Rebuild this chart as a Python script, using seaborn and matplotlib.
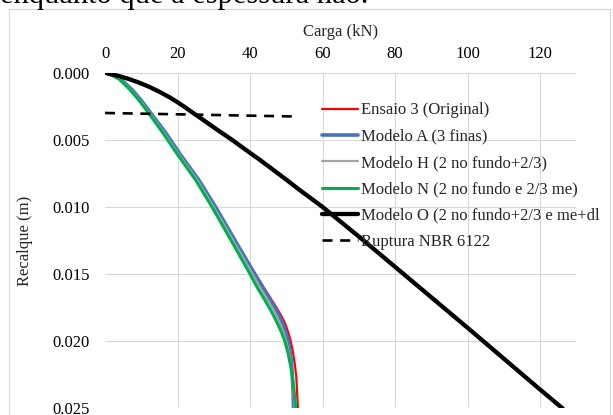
import numpy as np
import pandas as pd
import matplotlib
matplotlib.use("Agg")
import matplotlib.pyplot as plt
import seaborn as sns
from matplotlib.patches import Rectangle
from matplotlib.lines import Line2D

# ---------------- data ----------------
x_ticks = [0, 20, 40, 60, 80, 100, 120]
y_ticks = [0.000, 0.005, 0.010, 0.015, 0.020, 0.025]

# Ensaio 3 (Original)
red_P = [0, 2.2, 4.4, 7.6, 10.1, 12.6, 16.8, 20.8, 25.9, 30.5, 36.1, 41.5, 43.8, 45.9, 47.3, 48.6,
         49.7, 50.6, 51.3, 51.9, 52.4, 52.8, 53.0, 53.2]
red_v = [0, 0.0002, 0.0005, 0.0013, 0.0021, 0.0030, 0.0045, 0.0061, 0.0080, 0.0100, 0.0126, 0.0150,
         0.0160, 0.0169, 0.0175, 0.0181, 0.0187, 0.0194, 0.0201, 0.0209, 0.0218, 0.0228, 0.0239, 0.0250]
# Modelo A (3 finas)
blue_P = [0, 2.2, 4.4, 7.6, 10.1, 12.6, 16.8, 20.8, 25.9, 30.5, 36.1, 41.3, 43.5, 45.5, 46.8, 48.0,
          49.0, 49.9, 50.6, 51.1, 51.5, 51.7, 51.9, 52.0]
blue_v = [0, 0.0002, 0.0005, 0.0013, 0.0021, 0.0030, 0.0045, 0.0061, 0.0080, 0.0100, 0.0126, 0.0150,
          0.0160, 0.0169, 0.0175, 0.0181, 0.0187, 0.0194, 0.0201, 0.0209, 0.0218, 0.0228, 0.0239, 0.0250]
# Modelo H (2 no fundo+2/3)
gray_P = [0, 2.1, 4.2, 7.3, 9.8, 12.3, 16.4, 20.4, 25.5, 30.0, 35.6, 40.7, 42.8, 44.8, 46.1, 47.3,
          48.3, 49.3, 50.1, 50.8, 51.3, 51.7, 52.0, 52.3]
gray_v = [0, 0.0002, 0.0005, 0.0013, 0.0021, 0.0030, 0.0045, 0.0061, 0.0080, 0.0100, 0.0126, 0.0150,
          0.0160, 0.0169, 0.0175, 0.0181, 0.0187, 0.0194, 0.0201, 0.0209, 0.0218, 0.0228, 0.0239, 0.0250]
# Modelo N (2 no fundo e 2/3 me)
green_P = [0, 2.0, 4.0, 7.0, 9.5, 12.0, 16.0, 20.0, 25.0, 29.5, 35.0, 40.0, 42.0, 44.0, 45.3, 46.5,
           47.6, 48.6, 49.6, 50.4, 51.1, 51.7, 52.2, 52.6]
green_v = [0, 0.0002, 0.0005, 0.0013, 0.0021, 0.0030, 0.0045, 0.0061, 0.0080, 0.0100, 0.0126, 0.0150,
           0.0160, 0.0169, 0.0175, 0.0181, 0.0187, 0.0193, 0.0200, 0.0208, 0.0217, 0.0227, 0.0238, 0.0250]
# Modelo O (2 no fundo+2/3 e me+dl)
black_P = [0, 3.7, 6.5, 9.2, 12.0, 15.0, 18.0, 20.0, 22.0, 24.0, 27.0, 31.0, 34.5, 38.6, 43.0,
           48.2, 54.0, 60.0, 70.0, 80.0, 90.0, 100.0, 110.0, 120.0, 126.2]
black_v = [0, 0.00024, 0.00046, 0.00072, 0.00103, 0.00142, 0.00186, 0.0022, 0.00256, 0.00294,
           0.0035, 0.00426, 0.0049, 0.0057, 0.00655, 0.0076, 0.0088, 0.0100, 0.0122, 0.01446,
           0.01673, 0.0190, 0.0213, 0.0236, 0.0250]
# Ruptura NBR 6122
nbr_P = [0, 52.0]
nbr_v = [0.0030, 0.00326]

labels = ["Ensaio 3 (Original)", "Modelo A (3 finas)", "Modelo H (2 no fundo+2/3)",
          "Modelo N (2 no fundo e 2/3 me)", "Modelo O (2 no fundo+2/3 e me+dl",
          "Ruptura NBR 6122"]

# ---------------- figure ----------------
sns.set_theme(style="white")
plt.rcParams['font.family'] = ['Liberation Serif', 'DejaVu Serif']

W, H = 613, 415
fig = plt.figure(figsize=(W / 100, H / 100), dpi=100)
L, R, T, B = 105, 576.3, 72.7, 408.3
ax = fig.add_axes([L / W, 1 - B / H, (R - L) / W, (B - T) / H])

# chart-area border
fig.patches.append(Rectangle((9.3 / W, -0.05), (610 - 9.3) / W, 1 - 9.3 / H + 0.05,
                             transform=fig.transFigure, fill=False, ec='#d9d9d9', lw=0.9))

# cut-off document text at the top
fig.text(0.0, 1 - 2.5 / H, "enquanto que a espessura não.", fontsize=22,
         ha='left', va='baseline', color='black')

series = [
    (red_P, red_v, '#FF0000', 1.6),
    (blue_P, blue_v, '#4472C4', 2.6),
    (gray_P, gray_v, '#A5A5A5', 1.6),
    (green_P, green_v, '#00B050', 2.2),
    (black_P, black_v, '#000000', 3.1),
]
for i, (P, v, c, lw) in enumerate(series):
    df = pd.DataFrame({'Carga': P, 'Recalque': v})
    sns.lineplot(data=df, x='Carga', y='Recalque', ax=ax, color=c, lw=lw,
                 sort=False, estimator=None, zorder=3 + i, legend=False)
    ax.lines[-1].set_solid_joinstyle('round')

df_nbr = pd.DataFrame({'Carga': nbr_P, 'Recalque': nbr_v})
sns.lineplot(data=df_nbr, x='Carga', y='Recalque', ax=ax, color='black', lw=1.9,
             sort=False, estimator=None, zorder=9, legend=False)
ax.lines[-1].set_dashes([3.8, 2.9])

ax.set_xlim(0, 130)
ax.set_ylim(0.025, 0.0)
ax.set_xticks(x_ticks)
ax.set_yticks(y_ticks)
ax.set_yticklabels([f"{t:.3f}" for t in y_ticks])
ax.xaxis.tick_top()
ax.xaxis.set_label_position('top')
ax.tick_params(axis='both', length=0, labelsize=12, colors='black')
ax.tick_params(axis='x', pad=7.6)
ax.tick_params(axis='y', pad=10.8)
ax.grid(True, color='#d9d9d9', lw=0.8)
ax.xaxis.get_gridlines()[0].set_visible(False)
for s in ax.spines.values():
    s.set_visible(False)
ax.set_axisbelow(True)

ax.set_xlabel("Carga (kN)", fontsize=12)
ax.xaxis.set_label_coords(0.5, 1 + (T - 31.7) / (B - T))
ax.xaxis.label.set_va('center')
ax.set_ylabel("Recalque (m)", fontsize=12)
ax.yaxis.set_label_coords((25 - L) / (R - L), 0.5)
ax.yaxis.label.set_va('center')

handles = [Line2D([], [], color=c, lw=lw) for (_, _, c, lw) in series]
hd = Line2D([], [], color='black', lw=1.9)
hd.set_dashes([3.8, 2.9])
handles.append(hd)
leg = ax.legend(handles, labels, loc='upper left', bbox_to_anchor=(322 / W, 1 - 102.5 / H),
                bbox_transform=fig.transFigure, frameon=False, fontsize=12,
                handlelength=2.16, handletextpad=0.2, labelspacing=0.62,
                borderpad=0, borderaxespad=0)
leg.set_zorder(20)

fig.savefig("out.png", dpi=100)
